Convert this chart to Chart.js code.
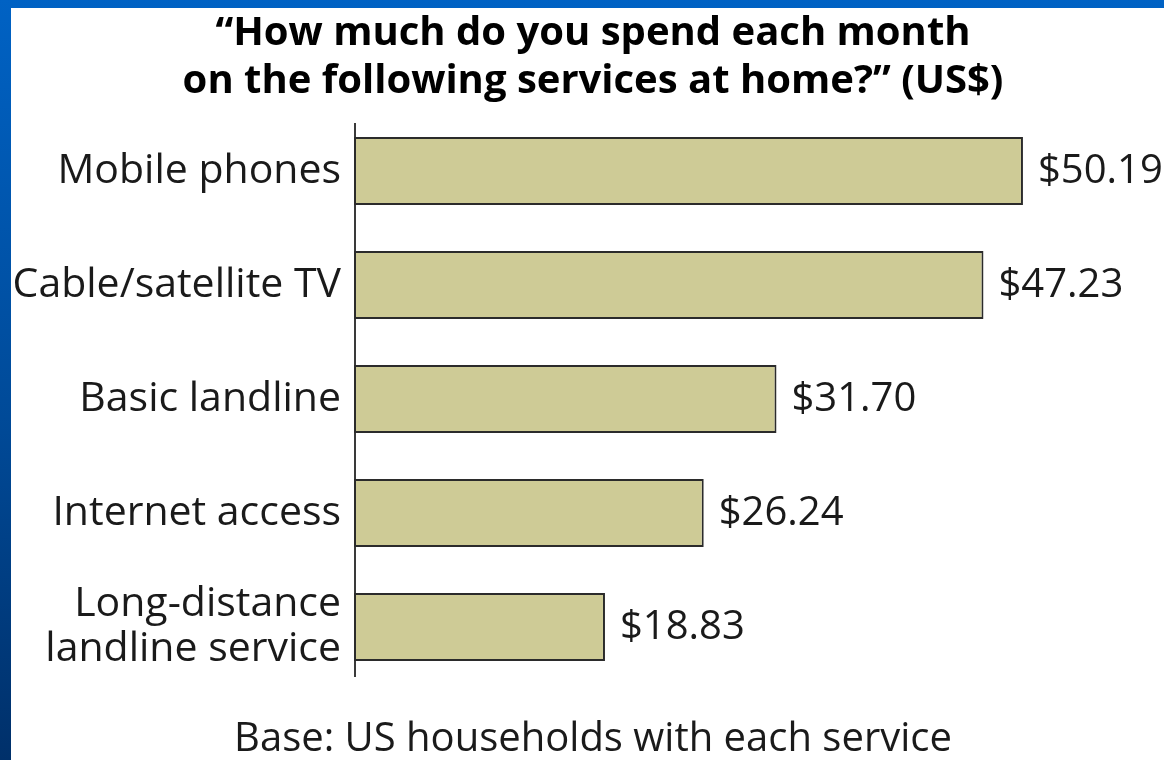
<!DOCTYPE html>
<html>
<head>
<meta charset="utf-8">
<title>Monthly spend on home services</title>
<script src="https://cdn.jsdelivr.net/npm/chart.js@4.4.1/dist/chart.umd.min.js"></script>
<style>
  html, body { margin: 0; padding: 0; }
  body {
    width: 1164px;
    height: 760px;
    overflow: hidden;
    background: linear-gradient(to bottom, #0062c4 0%, #004a98 55%, #00306a 100%);
    position: relative;
  }
  #panel {
    position: absolute;
    left: 11px;
    top: 8px;
    width: 1153px;
    height: 752px;
    overflow: hidden;
    background: #ffffff;
  }
  #chartBox {
    position: relative;
    width: 1164px;
    height: 752px;
  }
</style>
</head>
<body>
<div id="panel"><div id="chartBox"><canvas id="spendChart"></canvas></div></div>
<script>
const services = ['Mobile phones', 'Cable/satellite TV', 'Basic landline', 'Internet access', ['Long-distance', 'landline service']];
const monthlySpend = [50.19, 47.23, 31.70, 26.24, 18.83];
const titleLines = ['\u201CHow much do you spend each month', 'on the following services at home?\u201D (US$)'];
const baseNote = 'Base: US households with each service';

const fontFamily = '"Open Sans", "Noto Sans", sans-serif';
const labelFont = { family: fontFamily, size: 41, lineHeight: 1.1 };
const valueFont = { family: fontFamily, size: 40 };

// vertical axis line, slightly inset from the category band
const axisLine = {
  id: 'axisLine',
  beforeDatasetsDraw(chart) {
    const { ctx, chartArea } = chart;
    ctx.save();
    ctx.strokeStyle = '#3a3a3a';
    ctx.lineWidth = 2;
    ctx.beginPath();
    ctx.moveTo(chartArea.left + 1, chartArea.top + 9);
    ctx.lineTo(chartArea.left + 1, chartArea.bottom - 7);
    ctx.stroke();
    ctx.restore();
  }
};

// dollar amounts to the right of each bar
const valueLabels = {
  id: 'valueLabels',
  afterDatasetsDraw(chart) {
    const { ctx } = chart;
    const meta = chart.getDatasetMeta(0);
    ctx.save();
    ctx.font = valueFont.size + 'px ' + valueFont.family;
    ctx.fillStyle = '#1a1a1a';
    ctx.textAlign = 'left';
    ctx.textBaseline = 'middle';
    meta.data.forEach((bar, i) => {
      ctx.fillText('$' + monthlySpend[i].toFixed(2), bar.x + 15, bar.y + 1);
    });
    ctx.restore();
  }
};

const ctx = document.getElementById('spendChart').getContext('2d');

const chart = new Chart(ctx, {
  type: 'bar',
  data: {
    labels: services,
    datasets: [{
      label: 'Monthly spend (US$)',
      data: monthlySpend,
      backgroundColor: '#cecb96',
      borderColor: '#2b2b2b',
      borderWidth: 2,
      borderSkipped: false,
      categoryPercentage: 1,
      barPercentage: 0.596
    }]
  },
  options: {
    indexAxis: 'y',
    responsive: true,
    maintainAspectRatio: false,
    animation: false,
    layout: { padding: 0 },
    scales: {
      x: {
        min: 0,
        max: 61.6,
        display: false
      },
      y: {
        grid: { display: false, drawTicks: false },
        border: { display: false },
        ticks: {
          font: labelFont,
          color: '#1a1a1a',
          padding: 13
        },
        afterFit(scale) {
          scale.width = 343;
        }
      }
    },
    plugins: {
      legend: { display: false },
      tooltip: { enabled: false },
      title: {
        display: true,
        text: titleLines,
        color: '#000000',
        font: { family: fontFamily, size: 40, weight: 'bold', lineHeight: 1.2 },
        padding: { top: 2, bottom: 8 }
      },
      subtitle: {
        display: true,
        position: 'bottom',
        text: baseNote,
        color: '#1a1a1a',
        font: { family: fontFamily, size: 40, lineHeight: 1.0 },
        padding: { top: 36, bottom: 0 }
      }
    }
  },
  plugins: [axisLine, valueLabels]
});
</script>
</body>
</html>
